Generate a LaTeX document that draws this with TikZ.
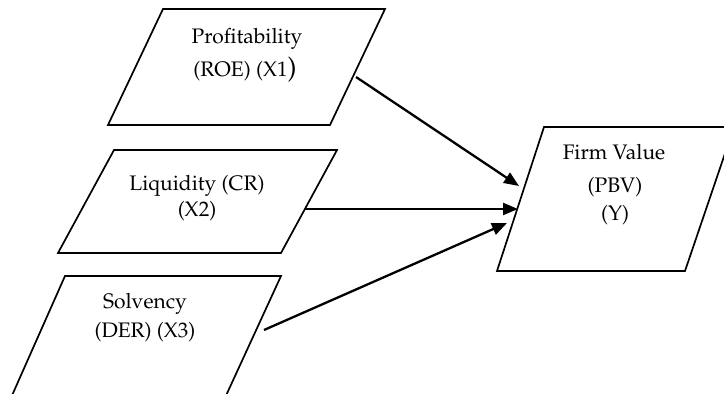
\documentclass[tikz,border=0pt]{standalone}
\usepackage[T1]{fontenc}
\usepackage{mathpazo}
\usetikzlibrary{arrows.meta}
\begin{document}
\begin{tikzpicture}[x=1pt,y=-1pt,
  box/.style={line width=1.7pt, line join=miter},
  conn/.style={line width=2.3pt, -{Triangle[length=15pt,width=12pt]}},
  lbl/.style={anchor=base, inner sep=0pt, font=\fontsize{21}{24}\selectfont}]
\useasboundingbox (0,0) rectangle (724,394);
\clip (0,0) rectangle (724,394);
% boxes
\draw[box] (163,9) -- (385,9) -- (330,125) -- (108,125) -- cycle;
\draw[box] (114,150) -- (337,150) -- (281,253) -- (58,253) -- cycle;
\draw[box] (65,276) -- (281,276) -- (224,400) -- (10,400) -- cycle;
\draw[box] (544,127) -- (734,127) -- (685,271) -- (497,271) -- cycle;
% labels
\node[lbl] (p1) at (247,43) {Profitability};
\node[lbl] (p2) at (245,76) {(ROE) (X1{\fontsize{27}{30}\selectfont )}};
\node[lbl] (l1) at (197,190) {Liquidity (CR)};
\node[lbl] (l2) at (197,216) {(X2)};
\node[lbl] (s1) at (145,308) {Solvency};
\node[lbl] (s2) at (145,337) {(DER) (X3)};
\node[lbl] (f1) at (614,159) {Firm Value};
\node[lbl] (f2) at (615,192) {(PBV)};
\node[lbl] (f3) at (615,220) {(Y)};
% connector ends
\coordinate (a1) at (356,77);
\coordinate (b1) at (519,186);
\coordinate (a2) at (305,209);
\coordinate (b2) at (518,209);
\coordinate (a3) at (264,330);
\coordinate (b3) at (507,223);
\draw[conn] (a1) -- (b1);
\draw[conn] (a2) -- (b2);
\draw[conn] (a3) -- (b3);
\end{tikzpicture}
\end{document}
